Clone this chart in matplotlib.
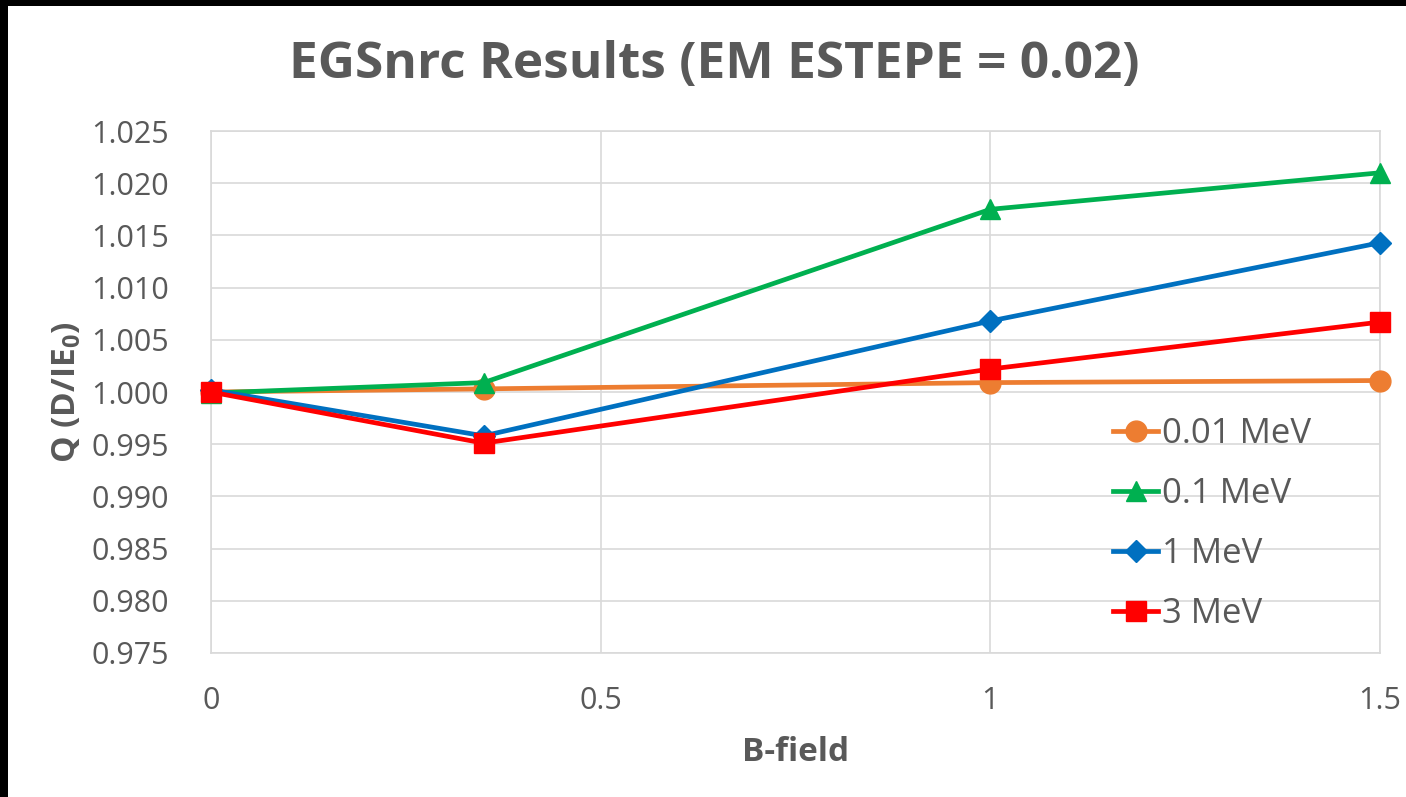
import matplotlib.pyplot as plt
from matplotlib.patches import Rectangle

plt.rcParams['font.family'] = ['Open Sans', 'DejaVu Sans']
plt.rcParams['mathtext.fontset'] = 'custom'
plt.rcParams['mathtext.bf'] = 'Open Sans:bold'

# B-field values and Q for each energy
b_field = [0, 0.35, 1, 1.5]
q_001 = [1.0000, 1.0003, 1.0009, 1.0011]
q_01 = [0.9999, 1.0009, 1.0175, 1.0210]
q_1 = [1.0002, 0.9958, 1.0068, 1.0143]
q_3 = [1.0000, 0.9951, 1.0022, 1.0067]
labels = ['0.01 MeV', '0.1 MeV', '1 MeV', '3 MeV']
y_ticks = [0.975, 0.980, 0.985, 0.990, 0.995, 1.000, 1.005, 1.010, 1.015, 1.020, 1.025]
x_ticks = [0, 0.5, 1, 1.5]

txt = '#595959'
grid = '#D9D9D9'

fig = plt.figure(figsize=(14.06, 7.97), dpi=100, facecolor='white')
# black strips on the left and top edge
fig.patches.append(Rectangle((0, 0), 8 / 1406, 1, transform=fig.transFigure,
                             facecolor='black', edgecolor='none'))
fig.patches.append(Rectangle((0, 1 - 6 / 797), 1, 6 / 797, transform=fig.transFigure,
                             facecolor='black', edgecolor='none'))

ax = fig.add_axes([0.150, 0.1807, 0.8315, 0.6549])
ax.set_facecolor('white')

series = [
    (q_001, '#ED7D31', 'o', 15),
    (q_01, '#00B050', '^', 15),
    (q_1, '#0070C0', 'D', 11),
    (q_3, '#FF0000', 's', 14),
]
for (vals, c, m, ms), lab in zip(series, labels):
    ax.plot(b_field, vals, color=c, marker=m, markersize=ms, lw=3.4, label=lab,
            clip_on=False, zorder=3)

ax.set_xlim(0, 1.5)
ax.set_ylim(0.975, 1.025)
ax.set_xticks(x_ticks)
ax.set_xticklabels(['0', '0.5', '1', '1.5'])
ax.set_yticks(y_ticks)
ax.set_yticklabels(['%.3f' % v for v in y_ticks])
ax.grid(True, color=grid, lw=1.2)
ax.set_axisbelow(True)
for s in ax.spines.values():
    s.set_color(grid)
    s.set_linewidth(1.2)
ax.tick_params(length=0, labelsize=22, labelcolor=txt)
ax.tick_params(axis='y', pad=30)
ax.tick_params(axis='x', pad=24)

ax.set_xlabel('B-field', fontsize=24, fontweight='bold', color=txt, labelpad=14)
ax.set_ylabel(r'Q (D/IE$_\mathbf{0}$)', fontsize=24, fontweight='bold', color=txt, labelpad=6)
fig.text(0.508, 0.918, 'EGSnrc Results (EM ESTEPE = 0.02)', fontsize=37,
         fontweight='bold', color=txt, ha='center', va='center')

leg = ax.legend(loc='center left', bbox_to_anchor=(0.76, 0.247), frameon=False,
                fontsize=25, handlelength=1.3, handletextpad=0.1,
                labelspacing=0.75, borderaxespad=0)
for t in leg.get_texts():
    t.set_color(txt)

fig.savefig('out.png', dpi=100, facecolor=fig.get_facecolor())
